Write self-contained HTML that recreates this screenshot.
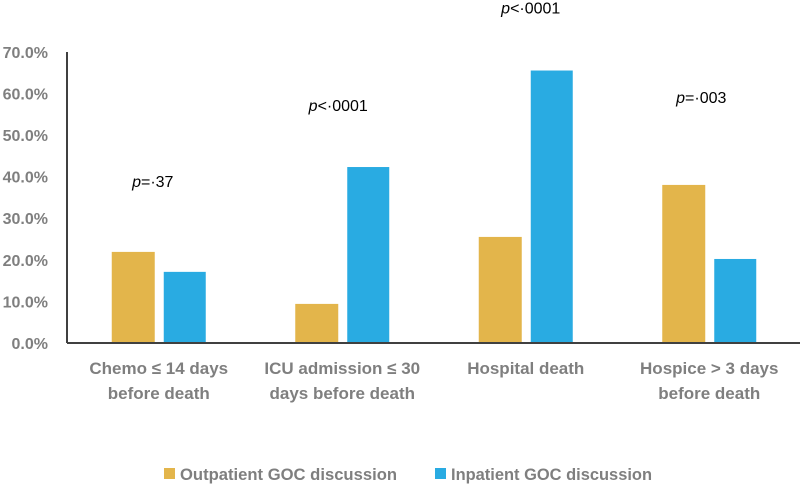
<!DOCTYPE html>
<html><head><meta charset="utf-8"><style>
html,body{margin:0;padding:0;background:#fff;}
svg{display:block;font-family:"Liberation Sans",sans-serif;}
.tick{font-size:16px;font-weight:bold;fill:#7f7f7f;}
.cat{font-size:17px;font-weight:bold;fill:#7f7f7f;}
.pv{font-size:16px;fill:#000;}
</style></head><body>
<svg id="chart" width="800" height="484">
<line x1="67" y1="52" x2="67" y2="343" stroke="#404040" stroke-width="2"/>
<g id="bars"></g>
<line x1="67" y1="343" x2="800" y2="343" stroke="#404040" stroke-width="2"/>
<g>
<rect x="164" y="468" width="11" height="11" fill="#e3b54b"/>
<text x="180" y="480" class="cat" textLength="217" lengthAdjust="spacingAndGlyphs">Outpatient GOC discussion</text>
<rect x="435" y="468" width="11" height="11" fill="#29abe2"/>
<text x="451" y="480" class="cat" textLength="201" lengthAdjust="spacingAndGlyphs">Inpatient GOC discussion</text>
</g>
</svg>
<script>
const categories = [["Chemo ≤ 14 days","before death"],["ICU admission ≤ 30","days before death"],["Hospital death"],["Hospice > 3 days","before death"]];
const outpatient = [21.9, 9.4, 25.5, 38.0];
const inpatient = [17.1, 42.3, 65.5, 20.2];
const pvalues = [["p","=·37"],["p","<·0001"],["p","<·0001"],["p","=·003"]];
const ticks = [0,10,20,30,40,50,60,70];

const NS="http://www.w3.org/2000/svg";
const svg=document.getElementById('chart');
const g=document.getElementById('bars');
const y0=343, pxPer=41.6/10;
const yScale=v=>y0-v*pxPer;
const xCenter=i=>67+183.5*(i+0.5);
const pGap=[65,56,57,82];
const pDx=[-6,-4,5,-8];
function mk(tag,attrs,parent){const e=document.createElementNS(NS,tag);for(const k in attrs)e.setAttribute(k,attrs[k]);(parent||svg).appendChild(e);return e;}

ticks.forEach(t=>{
  const e=mk('text',{x:48,y:yScale(t)+6,'text-anchor':'end','class':'tick'});
  
  
  e.textContent=t.toFixed(1)+'%';
});
categories.forEach((c,i)=>{
  const cx=xCenter(i);
  const a=mk('rect',{x:cx-47,y:yScale(outpatient[i]),width:43,height:outpatient[i]*pxPer,fill:'#e3b54b'},g);
  
  
  const b=mk('rect',{x:cx+5,y:yScale(inpatient[i]),width:42,height:inpatient[i]*pxPer,fill:'#29abe2'},g);
  
  
  c.forEach((line,j)=>{
    const t=mk('text',{x:cx,y:374+j*25,'text-anchor':'middle','class':'cat'});
    
    
    t.textContent=line;
  });
  const m=Math.max(outpatient[i],inpatient[i]);
  const p=mk('text',{x:cx+pDx[i],y:yScale(m)-pGap[i],'text-anchor':'middle','class':'pv'});
  
  
  const it=document.createElementNS(NS,'tspan');it.setAttribute('font-style','italic');it.textContent=pvalues[i][0];p.appendChild(it);
  const rt=document.createElementNS(NS,'tspan');rt.textContent=pvalues[i][1];p.appendChild(rt);
});
</script>
</body></html>
